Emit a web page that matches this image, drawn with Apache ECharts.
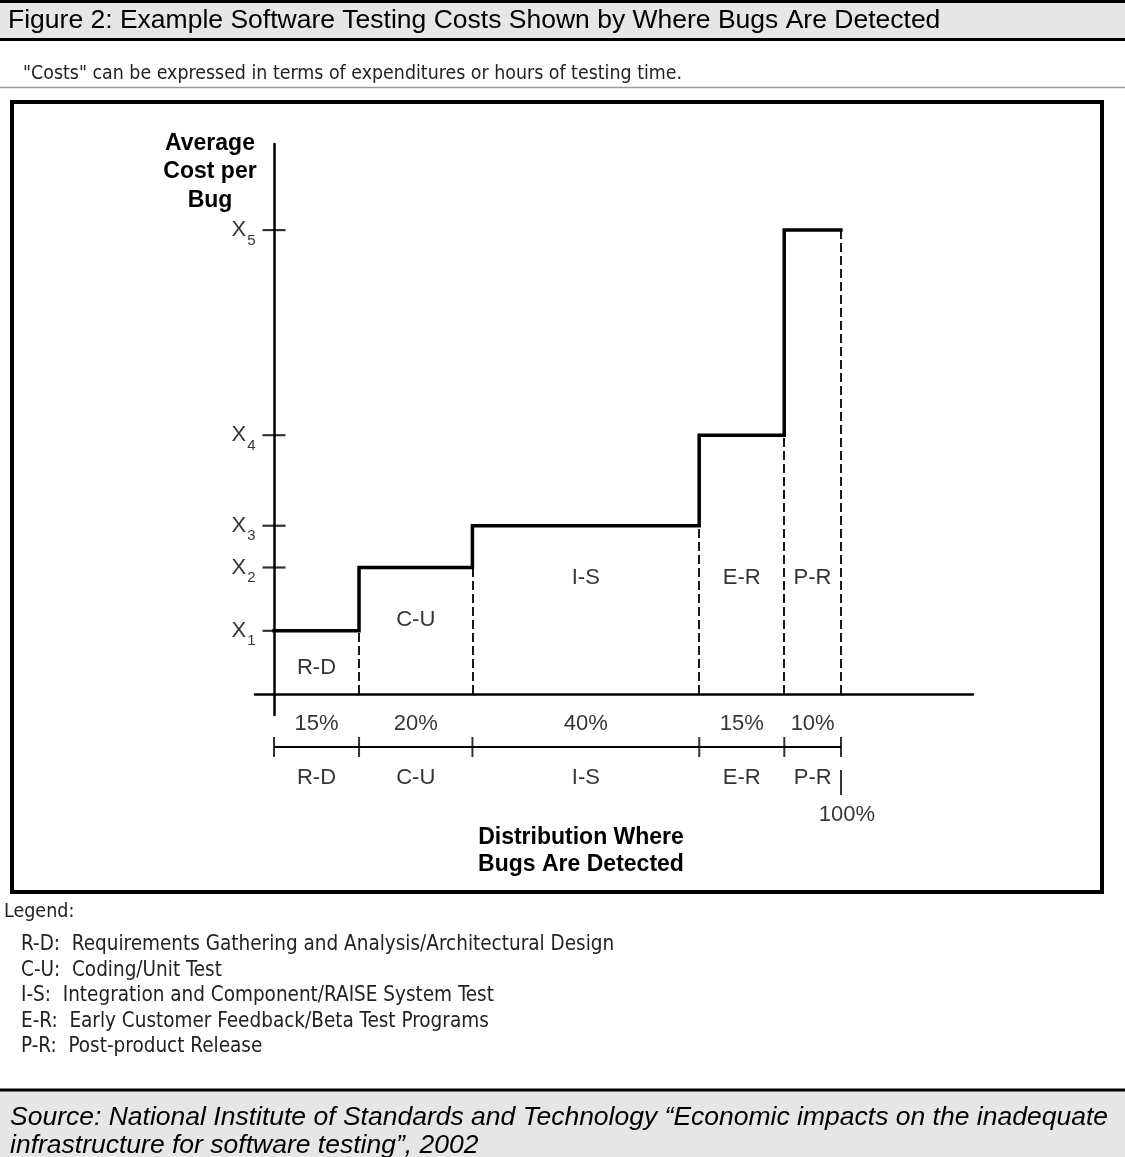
<!DOCTYPE html>
<html>
<head>
<meta charset="utf-8">
<script src="https://cdn.jsdelivr.net/npm/echarts@6/dist/echarts.min.js"></script>
<style>
html,body{margin:0;padding:0;background:#fff;}
#chart{width:1125px;height:1157px;}
</style>
</head>
<body>
<div id="chart"></div>
<script>
// ---- data ----
const stages = ['R-D', 'C-U', 'I-S', 'E-R', 'P-R'];
const shares = [15, 20, 40, 15, 10];               // % of bugs detected in each stage
const costLevels = [1.0, 2.0, 2.66, 4.09, 7.33];    // relative average cost per bug (X1..X5)
const costTickNames = ['1', '2', '3', '4', '5'];    // subscripts of X1..X5
const legendItems = [
  'R-D:  Requirements Gathering and Analysis/Architectural Design',
  'C-U:  Coding/Unit Test',
  'I-S:  Integration and Component/RAISE System Test',
  'E-R:  Early Customer Feedback/Beta Test Programs',
  'P-R:  Post-product Release'
];
const titleText = 'Figure 2: Example Software Testing Costs Shown by Where Bugs Are Detected';
const subtitleText = '"Costs" can be expressed in terms of expenditures or hours of testing time.';
const sourceLines = [
  'Source: National Institute of Standards and Technology \u201cEconomic impacts on the inadequate',
  'infrastructure for software testing\u201d, 2002'
];

// ---- derived ----
const starts = [], ends = [], mids = [];
let acc = 0;
shares.forEach(s => { starts.push(acc); mids.push(acc + s / 2); acc += s; ends.push(acc); });
const total = acc;

const stepData = starts.map((x, i) => [x, costLevels[i]]);
stepData.push([total, costLevels[costLevels.length - 1]]);

const dashData = ends.map((x, i) => ({ coords: [[x, 0], [x, costLevels[i]]] }));
const stageLabelY = [0.41, 1.17, 1.83, 1.83, 1.83];

const FONT = '"Liberation Sans", Arial, sans-serif';
const NARROW = '"Liberation Sans Narrow", "Arial Narrow", "DejaVu Sans Condensed", sans-serif';

const chart = echarts.init(document.getElementById('chart'), null, { renderer: 'canvas' });

const graphics = [
  // title bar
  { type: 'rect', shape: { x: 0, y: 0, width: 1125, height: 40 }, style: { fill: '#e6e6e6' }, z: 0 },
  { type: 'line', shape: { x1: 0, y1: 1.5, x2: 1125, y2: 1.5 }, style: { stroke: '#000', lineWidth: 3 } },
  { type: 'line', shape: { x1: 0, y1: 39.5, x2: 1125, y2: 39.5 }, style: { stroke: '#000', lineWidth: 3 } },
  { type: 'text', style: { text: titleText, x: 8, y: 21, font: '26.5px ' + FONT, fill: '#000', textVerticalAlign: 'middle', verticalAlign: 'middle' } },
  { type: 'text', style: { text: subtitleText, x: 23, y: 74, font: '19.4px ' + NARROW, fill: '#222', textVerticalAlign: 'middle', verticalAlign: 'middle' } },
  { type: 'line', shape: { x1: 0, y1: 87.5, x2: 1125, y2: 87.5 }, style: { stroke: '#999', lineWidth: 1.5 } },
  // chart frame
  { type: 'rect', shape: { x: 12, y: 102, width: 1090, height: 790 }, style: { fill: 'none', stroke: '#000', lineWidth: 4 } },
  // legend
  { type: 'text', style: { text: 'Legend:', x: 4, y: 912, font: '19.5px ' + NARROW, fill: '#222', textVerticalAlign: 'middle', verticalAlign: 'middle' } },
  // source bar
  { type: 'rect', shape: { x: 0, y: 1090, width: 1125, height: 67 }, style: { fill: '#e6e6e6' } },
  { type: 'line', shape: { x1: 0, y1: 1090, x2: 1125, y2: 1090 }, style: { stroke: '#000', lineWidth: 3 } }
];
legendItems.forEach((t, i) => {
  graphics.push({ type: 'text', style: { text: t, x: 21, y: 945 + i * 25.5, font: '20.5px ' + NARROW, fill: '#222', textVerticalAlign: 'middle', verticalAlign: 'middle' } });
});
sourceLines.forEach((t, i) => {
  graphics.push({ type: 'text', style: { text: t, x: 10, y: 1118 + i * 28, font: 'italic 26.5px ' + FONT, fill: '#000', textVerticalAlign: 'middle', verticalAlign: 'middle' } });
});

const labelFont = { fontFamily: FONT, fontSize: 22, color: '#000' };

const option = {
  animation: false,
  backgroundColor: '#fff',
  graphic: graphics,
  grid: [
    { left: 255, right: 152, top: 144, bottom: 442, containLabel: false },
    { left: 274, right: 284, top: 700, height: 130, containLabel: false }
  ],
  xAxis: [
    {
      type: 'value', gridIndex: 0, min: -3.35, max: 123.3,
      axisLine: { show: true, onZero: true, lineStyle: { color: '#000', width: 2.5 } },
      axisTick: { show: false }, axisLabel: { show: false }, splitLine: { show: false },
      name: 'Distribution Where\nBugs Are Detected', nameLocation: 'middle', nameGap: 109,
      nameTextStyle: { fontFamily: FONT, fontSize: 23, fontWeight: 'bold', color: '#000', lineHeight: 27, align: 'center', verticalAlign: 'top', padding: [0, 66, 0, 0] }
    },
    { type: 'value', gridIndex: 1, min: 0, max: total, show: false }
  ],
  yAxis: [
    {
      type: 'value', gridIndex: 0, min: -0.33, max: 8.69,
      axisLine: { show: true, onZero: true, lineStyle: { color: '#000', width: 2.5 } },
      axisTick: { show: false }, axisLabel: { show: false }, splitLine: { show: false },
      name: 'Average\nCost per\nBug', nameLocation: 'end', nameGap: 15,
      nameTextStyle: { fontFamily: FONT, fontSize: 23, fontWeight: 'bold', color: '#000', lineHeight: 28.5, align: 'center', verticalAlign: 'top', padding: [0, 128, 0, 0] }
    },
    { type: 'value', gridIndex: 1, min: -83, max: 47, show: false }
  ],
  series: [
    // dashed drop lines
    {
      type: 'lines', coordinateSystem: 'cartesian2d', xAxisIndex: 0, yAxisIndex: 0,
      data: dashData, silent: true,
      lineStyle: { color: '#000', width: 1.8, type: [9, 4], opacity: 1 }, z: 2
    },
    // cost step line
    {
      type: 'line', xAxisIndex: 0, yAxisIndex: 0, step: 'end', data: stepData,
      symbol: 'none', lineStyle: { color: '#000', width: 3.5, cap: 'square', join: 'miter' }, z: 3, silent: true
    },
    // y ticks with X labels
    {
      type: 'scatter', xAxisIndex: 0, yAxisIndex: 0,
      data: costLevels.map((v, i) => ({ value: [0, v], name: costTickNames[i] })),
      symbol: 'rect', symbolSize: [23, 2.2], itemStyle: { color: '#000' }, silent: true, z: 4,
      label: {
        show: true, position: 'left', distance: 7,
        formatter: p => '{x|X}{s|' + p.name + '}',
        rich: {
          x: { fontFamily: FONT, fontSize: 22, lineHeight: 22, color: '#000' },
          s: { fontFamily: FONT, fontSize: 15, lineHeight: 15, color: '#000', padding: [21, 0, 0, 1] }
        }
      }
    },
    // stage labels inside the chart
    {
      type: 'scatter', xAxisIndex: 0, yAxisIndex: 0,
      data: mids.map((x, i) => ({ value: [x, stageLabelY[i]], name: stages[i] })),
      symbolSize: 0, itemStyle: { color: 'rgba(0,0,0,0)' }, silent: true,
      label: { show: true, position: 'inside', formatter: p => p.name, ...labelFont }
    },
    // distribution bracket line
    {
      type: 'line', xAxisIndex: 1, yAxisIndex: 1, data: [[0, 0], [total, 0]],
      symbol: 'none', lineStyle: { color: '#000', width: 2 }, silent: true
    },
    // bracket ticks at stage boundaries
    {
      type: 'scatter', xAxisIndex: 1, yAxisIndex: 1,
      data: [0].concat(ends).map(x => [x, 0]),
      symbol: 'rect', symbolSize: [2, 20], itemStyle: { color: '#000' }, silent: true
    },
    // share labels (above) and stage names (below)
    {
      type: 'scatter', xAxisIndex: 1, yAxisIndex: 1,
      data: mids.map((x, i) => ({ value: [x, 0], name: shares[i] + '%' })),
      symbolSize: 0, itemStyle: { color: 'rgba(0,0,0,0)' }, silent: true,
      label: { show: true, position: 'top', distance: 12, formatter: p => p.name, ...labelFont }
    },
    {
      type: 'scatter', xAxisIndex: 1, yAxisIndex: 1,
      data: mids.map((x, i) => ({ value: [x, 0], name: stages[i] })),
      symbolSize: 0, itemStyle: { color: 'rgba(0,0,0,0)' }, silent: true,
      label: { show: true, position: 'bottom', distance: 19.5, formatter: p => p.name, ...labelFont }
    },
    // cumulative 100% marker
    {
      type: 'scatter', xAxisIndex: 1, yAxisIndex: 1,
      data: [{ value: [total, 0], name: total + '%' }],
      symbol: 'rect', symbolSize: [2, 25], symbolOffset: [0, 35.5], itemStyle: { color: '#000' }, silent: true
    },
    {
      type: 'scatter', xAxisIndex: 1, yAxisIndex: 1,
      data: [{ value: [total, 0], name: total + '%' }],
      symbolSize: 0, itemStyle: { color: 'rgba(0,0,0,0)' }, silent: true,
      label: { show: true, position: 'bottom', distance: 56.5, offset: [6, 0], formatter: p => p.name, ...labelFont }
    }
  ]
};
chart.setOption(option);
</script>
</body>
</html>
